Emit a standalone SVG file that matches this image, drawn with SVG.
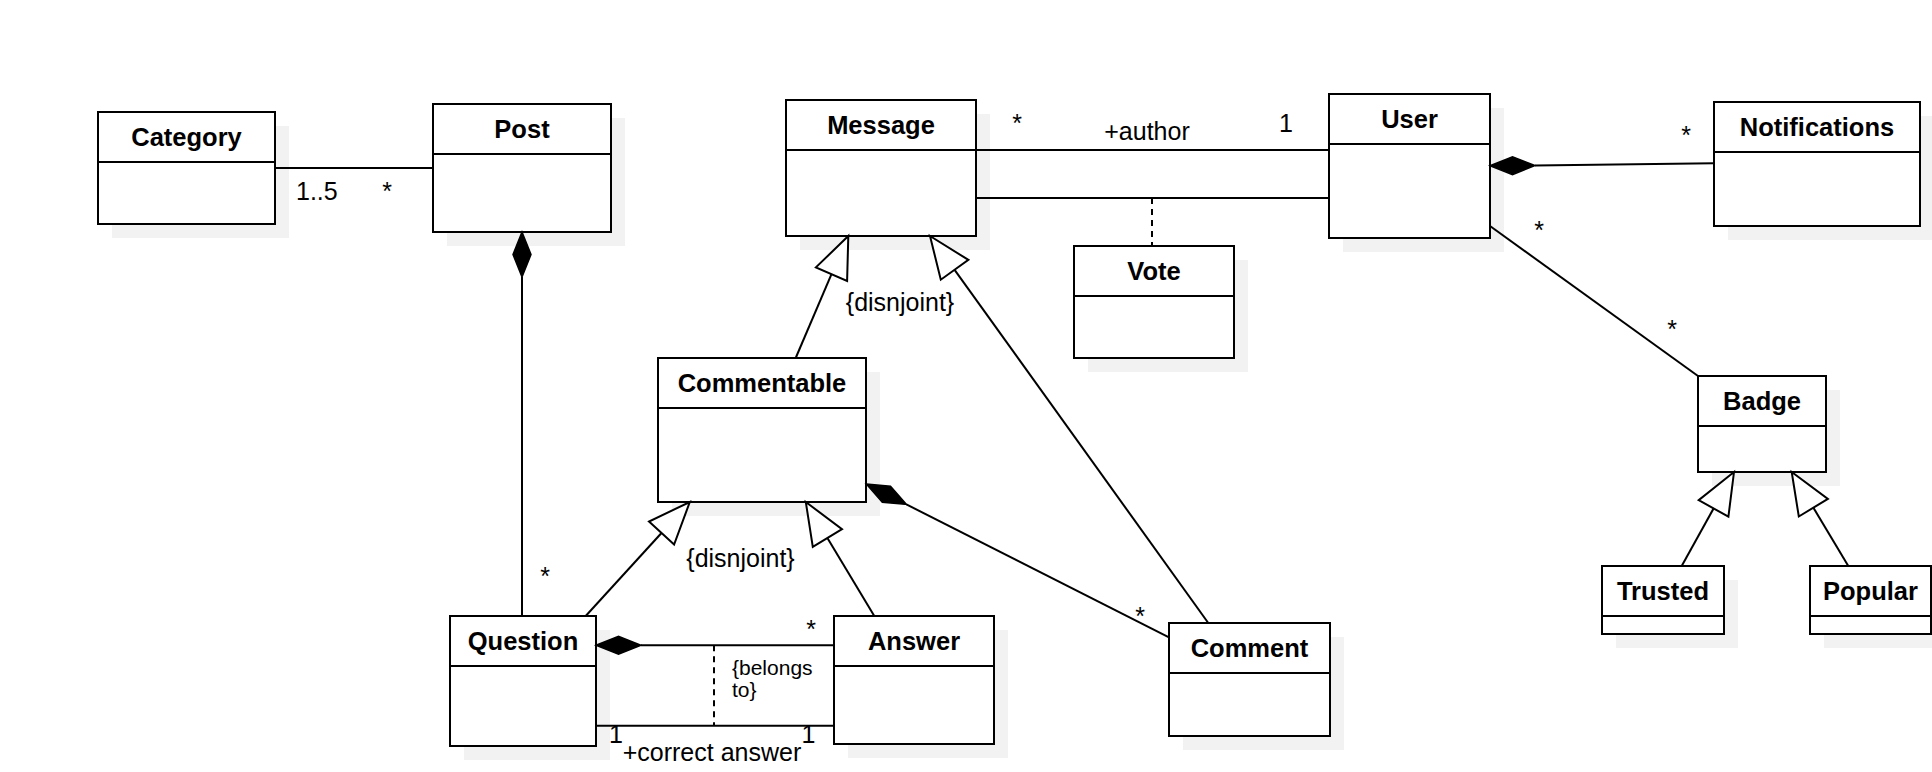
<svg xmlns="http://www.w3.org/2000/svg" width="1932" height="772" viewBox="0 0 1932 772">
<style>
.sh{fill:#f2f2f2}
.box{fill:#fff;stroke:#000;stroke-width:2}
.dv{stroke:#000;stroke-width:2}
.t{font-family:"Liberation Sans",Arial,sans-serif;font-weight:bold;font-size:25.5px;text-anchor:middle;fill:#000}
.l{font-family:"Liberation Sans",Arial,sans-serif;font-size:25px;fill:#000}
.m{text-anchor:middle}
.s{font-size:21px}
.ln{stroke:#000;stroke-width:2;fill:none}
.dash{stroke-dasharray:6 5}
.gen{fill:#fff;stroke:#000;stroke-width:2;stroke-linejoin:miter}
.comp{fill:#000;stroke:#000;stroke-width:1.5;stroke-linejoin:miter}
</style>
<rect width="1932" height="772" fill="#fff"/>
<g id="Category"><rect class="sh" x="112" y="126" width="177" height="112"/><rect class="box" x="98" y="112" width="177" height="112"/><line class="dv" x1="98" y1="162" x2="275" y2="162"/><text class="t" x="186.5" y="146">Category</text></g>
<g id="Post"><rect class="sh" x="447" y="118" width="178" height="128"/><rect class="box" x="433" y="104" width="178" height="128"/><line class="dv" x1="433" y1="154" x2="611" y2="154"/><text class="t" x="522" y="138">Post</text></g>
<g id="Message"><rect class="sh" x="800" y="114" width="190" height="136"/><rect class="box" x="786" y="100" width="190" height="136"/><line class="dv" x1="786" y1="150" x2="976" y2="150"/><text class="t" x="881" y="134">Message</text></g>
<g id="User"><rect class="sh" x="1343" y="108" width="161" height="144"/><rect class="box" x="1329" y="94" width="161" height="144"/><line class="dv" x1="1329" y1="144" x2="1490" y2="144"/><text class="t" x="1409.5" y="128">User</text></g>
<g id="Notifications"><rect class="sh" x="1728" y="116" width="206" height="124"/><rect class="box" x="1714" y="102" width="206" height="124"/><line class="dv" x1="1714" y1="152" x2="1920" y2="152"/><text class="t" x="1817" y="136">Notifications</text></g>
<g id="Vote"><rect class="sh" x="1088" y="260" width="160" height="112"/><rect class="box" x="1074" y="246" width="160" height="112"/><line class="dv" x1="1074" y1="296" x2="1234" y2="296"/><text class="t" x="1154" y="280">Vote</text></g>
<g id="Commentable"><rect class="sh" x="672" y="372" width="208" height="144"/><rect class="box" x="658" y="358" width="208" height="144"/><line class="dv" x1="658" y1="408" x2="866" y2="408"/><text class="t" x="762" y="392">Commentable</text></g>
<g id="Badge"><rect class="sh" x="1712" y="390" width="128" height="96"/><rect class="box" x="1698" y="376" width="128" height="96"/><line class="dv" x1="1698" y1="426" x2="1826" y2="426"/><text class="t" x="1762" y="410">Badge</text></g>
<g id="Trusted"><rect class="sh" x="1616" y="580" width="122" height="68"/><rect class="box" x="1602" y="566" width="122" height="68"/><line class="dv" x1="1602" y1="616" x2="1724" y2="616"/><text class="t" x="1663" y="600">Trusted</text></g>
<g id="Popular"><rect class="sh" x="1824" y="580" width="121" height="68"/><rect class="box" x="1810" y="566" width="121" height="68"/><line class="dv" x1="1810" y1="616" x2="1931" y2="616"/><text class="t" x="1870.5" y="600">Popular</text></g>
<g id="Question"><rect class="sh" x="464" y="630" width="146" height="130"/><rect class="box" x="450" y="616" width="146" height="130"/><line class="dv" x1="450" y1="666" x2="596" y2="666"/><text class="t" x="523" y="650">Question</text></g>
<g id="Answer"><rect class="sh" x="848" y="630" width="160" height="128"/><rect class="box" x="834" y="616" width="160" height="128"/><line class="dv" x1="834" y1="666" x2="994" y2="666"/><text class="t" x="914" y="650">Answer</text></g>
<g id="Comment"><rect class="sh" x="1183" y="637" width="161" height="113"/><rect class="box" x="1169" y="623" width="161" height="113"/><line class="dv" x1="1169" y1="673" x2="1330" y2="673"/><text class="t" x="1249.5" y="657">Comment</text></g>
<g id="connectors">
<line class="ln" x1="275" y1="168" x2="433" y2="168"/>
<line class="ln" x1="522" y1="277" x2="522" y2="616"/>
<polygon class="comp" points="522,232 531,254.5 522,277 513,254.5"/>
<line class="ln" x1="976" y1="150" x2="1329" y2="150"/>
<line class="ln" x1="976" y1="198" x2="1329" y2="198"/>
<line class="ln dash" x1="1152" y1="198" x2="1152" y2="246"/>
<line class="ln" x1="1535" y1="165.5" x2="1714" y2="163.3"/>
<polygon class="comp" points="1490,165.7 1512.5,156.7 1535,165.5 1512.5,174.6"/>
<line class="ln" x1="1490" y1="226" x2="1698" y2="376"/>
<line class="ln" x1="795.7" y1="358" x2="831.5" y2="274.2"/>
<polygon class="gen" points="848.3,236 847.1,281 815.9,267.4"/>
<line class="ln" x1="1208.3" y1="623" x2="954.6" y2="269.8"/>
<polygon class="gen" points="930,236 968.4,259.9 940.8,279.7"/>
<line class="ln" x1="585.7" y1="616" x2="661.5" y2="533"/>
<polygon class="gen" points="689.8,502 674.1,544.5 649,521.5"/>
<line class="ln" x1="874.3" y1="616" x2="827.4" y2="538"/>
<polygon class="gen" points="805.8,502 842,529.2 812.8,546.8"/>
<line class="ln" x1="1681.7" y1="566" x2="1713.6" y2="508.4"/>
<polygon class="gen" points="1734,472 1728.4,516.7 1698.7,500.1"/>
<line class="ln" x1="1848.3" y1="566" x2="1813.4" y2="507.7"/>
<polygon class="gen" points="1791.7,472 1827.9,498.9 1798.8,516.5"/>
<line class="ln" x1="906.4" y1="504.4" x2="1169" y2="637.3"/>
<polygon class="comp" points="866.3,484 890.5,486.2 906.4,504.4 882.3,502.2"/>
<line class="ln" x1="641" y1="645.3" x2="834" y2="645.3"/>
<polygon class="comp" points="596,645.3 618.5,636.3 641,645.3 618.5,654.3"/>
<line class="ln" x1="596" y1="725.7" x2="834" y2="725.7"/>
<line class="ln dash" x1="714" y1="645.3" x2="714" y2="725.7"/>
<text class="l" x="296" y="200">1..5</text>
<text class="l m" x="387" y="200">*</text>
<text class="l m" x="1017" y="132">*</text>
<text class="l m" x="1147" y="140">+author</text>
<text class="l m" x="1286" y="132">1</text>
<text class="l m" x="1686" y="144">*</text>
<text class="l m" x="1539" y="239">*</text>
<text class="l m" x="1672" y="338">*</text>
<text class="l m" x="900" y="311">{disnjoint}</text>
<text class="l m" x="740.5" y="567">{disnjoint}</text>
<text class="l m" x="545" y="585">*</text>
<text class="l m" x="811" y="638">*</text>
<text class="l m" x="1140" y="625">*</text>
<text class="l s" x="732" y="675">{belongs</text>
<text class="l s" x="732" y="697">to}</text>
<text class="l m" x="616" y="743">1</text>
<text class="l m" x="808.5" y="743">1</text>
<text class="l m" x="712" y="761">+correct answer</text>
</g>
</svg>
